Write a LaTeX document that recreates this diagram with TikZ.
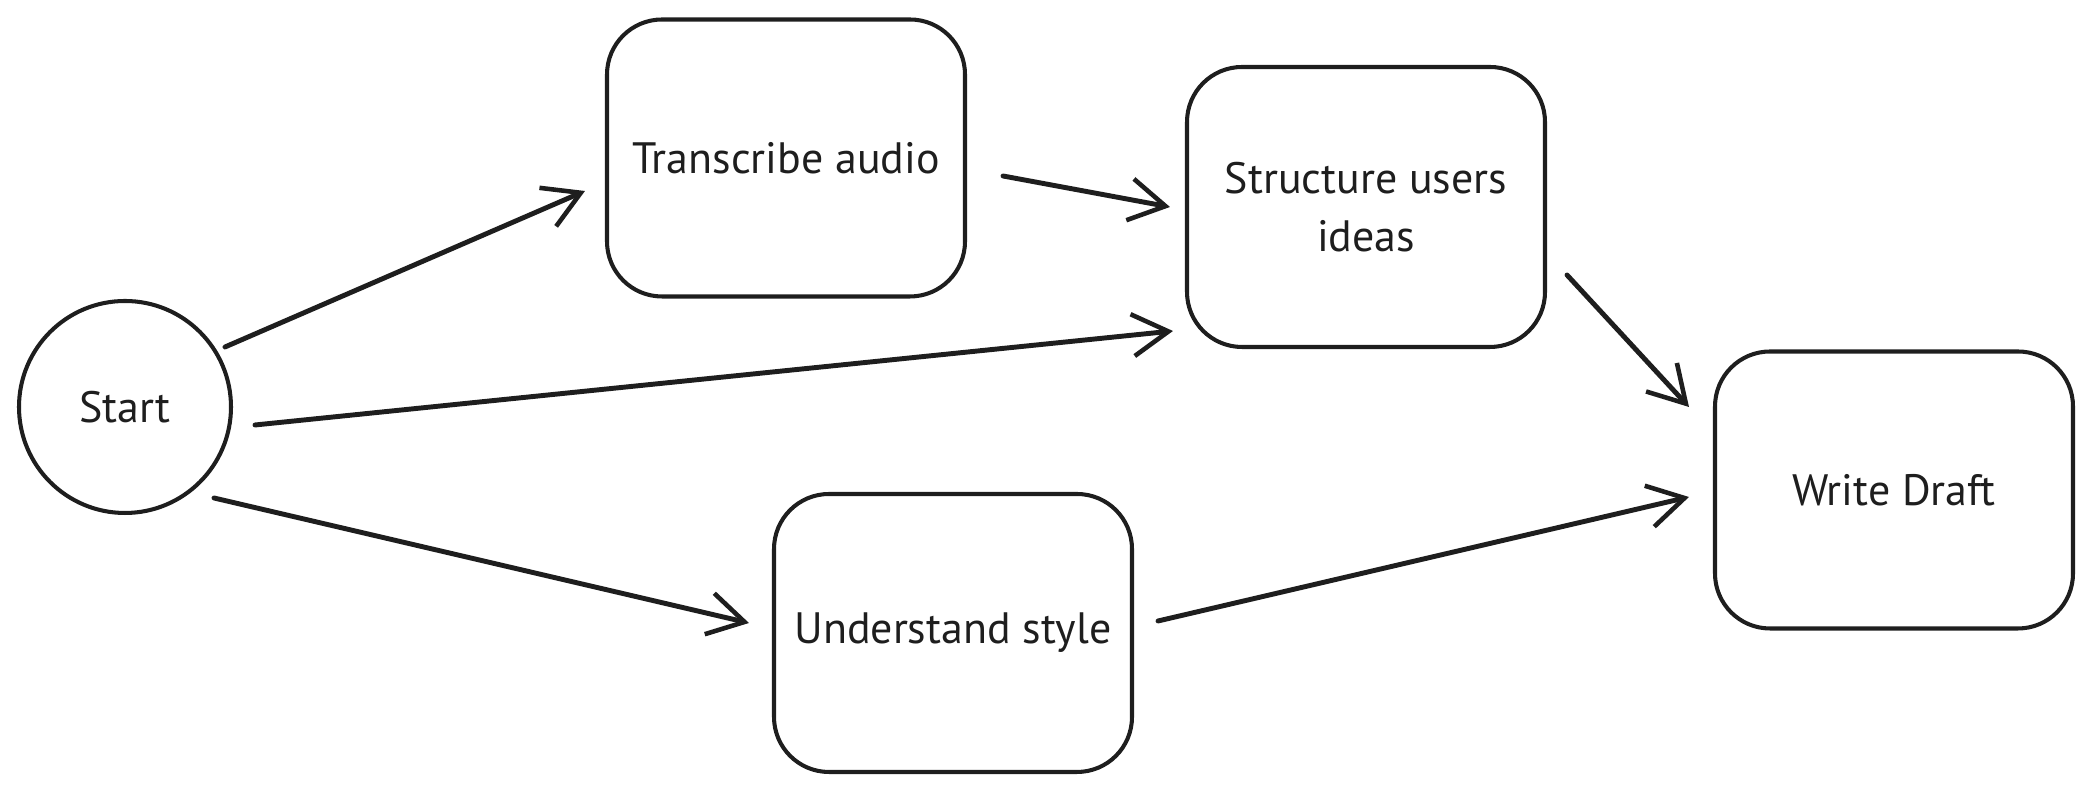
\documentclass[tikz,border=0pt]{standalone}
\usepackage{fontspec}
\setmainfont{PT Sans}
\usepackage{tikz}
\usetikzlibrary{arrows.meta}
\tikzset{>={Straight Barb[length=3.6mm,width=4.2mm,line width=1.3pt]}}
\tikzset{
  stepnode/.style={draw,line width=1.15pt,rounded corners=5.5mm,minimum width=35.8mm,minimum height=27.7mm,align=center,font=\fontsize{12.5}{16.5}\selectfont},
  startnode/.style={draw,circle,line width=1.15pt,minimum size=21.2mm,font=\fontsize{12.5}{15}\selectfont},
  flow/.style={->,line width=1.4pt,line cap=round}
}
\definecolor{Ink}{RGB}{30,30,30}

\begin{document}
\begin{tikzpicture}[x=0.1mm,y=0.1mm,color=Ink]
          \useasboundingbox (0,0) rectangle (2093,791);
          \node[startnode] (start) at (125,384) {Start};
          \node[stepnode] (transcribe) at (786,633) {Transcribe audio};
          \node[stepnode,minimum height=28mm] (structure) at (1366,584) {Structure users\\ideas};
          \node[stepnode,minimum height=27.8mm] (understand) at (953,158) {Understand style};
          \node[stepnode] (draft) at (1894,301) {Write Draft};
          \draw[flow]([shift={(100,60)}]start.center)--([shift={(-20,-33)}]transcribe.west);
          \draw[flow]([shift={(130,-18)}]start.center)--([shift={(-12,-124)}]structure.west);
          \draw[flow]([shift={(89,-91)}]start.center)--([shift={(-23,10)}]understand.west);
          \draw[flow]([shift={(36,-18)}]transcribe.east)--([shift={(-15,0)}]structure.west);
          \draw[flow]([shift={(20,-68)}]structure.east)--([shift={(-24,83)}]draft.west);
          \draw[flow]([shift={(24,12)}]understand.east)--([shift={(-24,-7)}]draft.west);
    \end{tikzpicture}
\end{document}
